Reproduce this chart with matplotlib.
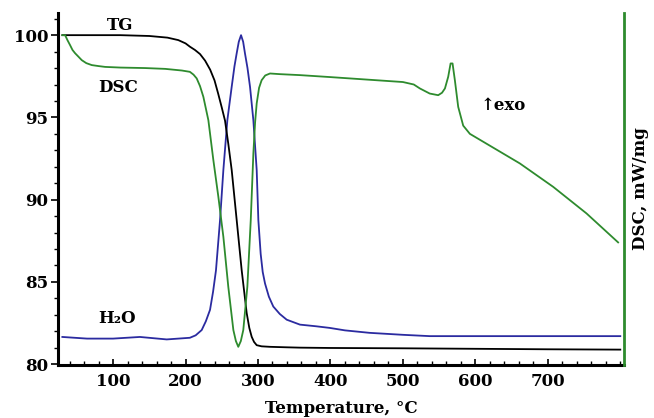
import numpy as np
import matplotlib
matplotlib.use('Agg')
import matplotlib.pyplot as plt
from matplotlib.ticker import MultipleLocator

plt.rcParams['font.family'] = ['DejaVu Serif', 'DejaVu Sans']
plt.rcParams['font.weight'] = 'bold'

# TG, %
tg_t = [30, 60, 110, 150, 175, 190, 200, 206, 213, 220, 227, 234, 240, 245, 250,
        254.5, 259, 263.7, 270.6, 277.5, 284.4, 288, 291.3, 294.5, 298.2, 305,
        316.6, 340, 358, 400, 500, 600, 700, 800]
tg_v = [100, 100, 100, 99.95, 99.85, 99.7, 99.5, 99.3, 99.1, 98.85, 98.45, 97.9,
        97.25, 96.45, 95.6, 94.8, 93.4, 91.8, 88.75, 85.7, 83.1, 82.2, 81.66,
        81.35, 81.15, 81.08, 81.05, 81.02, 81.0, 80.98, 80.96, 80.93, 80.9, 80.88]

# DSC (arbitrary, shown on right axis)
dsc_t = [30, 33.8, 37, 40.7, 44, 47.6, 52, 56.8, 63, 70.6, 80, 89, 110, 144, 172,
         195, 206, 211, 215.4, 220, 224.6, 231.5, 238.4, 245.3, 252.2, 259, 266,
         269.5, 272.8, 276.3, 279.7, 285.3, 290, 293.6, 296, 298.2, 301.5, 305,
         310, 316.6, 330, 358, 400, 450, 500, 515, 523.4, 537, 548.7, 554, 558,
         562.5, 565.8, 568.5, 571.7, 576.3, 583.2, 592.4, 615.4, 661.4, 707.3,
         753.4, 797]
dsc_v = [100, 100, 99.7, 99.39, 99.1, 98.9, 98.7, 98.48, 98.3, 98.18, 98.12, 98.07,
         98.03, 98.0, 97.95, 97.85, 97.77, 97.6, 97.37, 96.9, 96.25, 94.83, 92.4,
         90.17, 87.74, 84.7, 82.07, 81.4, 81.05, 81.4, 82.07, 84.7, 88.75, 92.8,
         94.7, 95.85, 96.8, 97.26, 97.55, 97.67, 97.63, 97.57, 97.45, 97.3, 97.15,
         97.0, 96.76, 96.45, 96.35, 96.5, 96.76, 97.47, 98.28, 98.28, 97.26, 95.64,
         94.5, 94.0, 93.4, 92.2, 90.78, 89.16, 87.4]

# H2O (MS signal, arbitrary)
h2o_t = [30, 64, 100, 137, 174, 206, 214, 222.3, 228, 233.8, 238, 242, 247.6, 252.2,
         257.7, 263.7, 267.5, 270.6, 273.5, 276.6, 279.5, 282, 285.5, 289, 293.6,
         298.2, 300.5, 303.7, 306.5, 309.7, 315, 321.1, 330, 339.6, 357.9, 380,
         399, 420, 454, 500, 537, 650, 800]
h2o_v = [81.65, 81.55, 81.55, 81.65, 81.5, 81.6, 81.75, 82.07, 82.6, 83.3, 84.4,
         85.7, 88.75, 91.8, 94.83, 96.86, 98.1, 98.9, 99.6, 100, 99.6, 98.9, 98.0,
         96.86, 94.83, 91.8, 88.75, 86.7, 85.6, 84.9, 84.1, 83.5, 83.05, 82.7,
         82.4, 82.3, 82.2, 82.05, 81.9, 81.78, 81.7, 81.7, 81.7]

fig = plt.figure(figsize=(6.54, 4.18), dpi=100)
ax = fig.add_axes([0.0887, 0.127, 0.8653, 0.842])
ax2 = ax.twinx()

ax.plot(h2o_t, h2o_v, color='#2b2ba0', lw=1.3)
ax.plot(tg_t, tg_v, color='black', lw=1.3)
ax2.plot(dsc_t, dsc_v, color='#2e8b2e', lw=1.3)

ax.set_xlim(24, 805)
ax.set_ylim(79.95, 101.35)
ax2.set_ylim(79.95, 101.35)

ax.xaxis.set_minor_locator(MultipleLocator(20))
ax.yaxis.set_major_locator(MultipleLocator(5))
ax.yaxis.set_minor_locator(MultipleLocator(1))
ax.set_xticks([100, 200, 300, 400, 500, 600, 700])
ax.tick_params(axis='x', which='both', direction='in', labelsize=12, pad=6)
ax.tick_params(axis='x', which='major', length=4, width=1.2)
ax.tick_params(axis='x', which='minor', length=3, width=1)
ax.tick_params(axis='y', which='major', direction='out', length=5, width=1.2,
               labelsize=12, pad=2)
ax.tick_params(axis='y', which='minor', direction='out', length=3, width=1)
ax2.set_yticks([])

for a in (ax, ax2):
    a.spines['top'].set_visible(False)
ax.spines['left'].set_linewidth(2.2)
ax.spines['bottom'].set_linewidth(2.2)
ax.spines['right'].set_visible(False)
ax2.spines['left'].set_visible(False)
ax2.spines['bottom'].set_visible(False)
ax2.spines['right'].set_color('#2e8b2e')
ax2.spines['right'].set_linewidth(2)

ax.set_xlabel('Temperature, °C', fontsize=12, fontweight='bold', labelpad=7)
ax2.set_ylabel('DSC, mW/mg', fontsize=12, fontweight='bold', labelpad=6)

ax.text(110, 100.6, 'TG', fontsize=12, fontweight='bold', ha='center', va='center')
ax.text(107, 96.8, 'DSC', fontsize=12, fontweight='bold', ha='center', va='center')
ax.text(105, 82.8, 'H₂O', fontsize=12, fontweight='bold', ha='center', va='center')
ax.text(607, 95.7, '↑exo', fontsize=12, fontweight='bold', ha='left', va='center')

plt.savefig('out.png', dpi=100)
plt.close()
